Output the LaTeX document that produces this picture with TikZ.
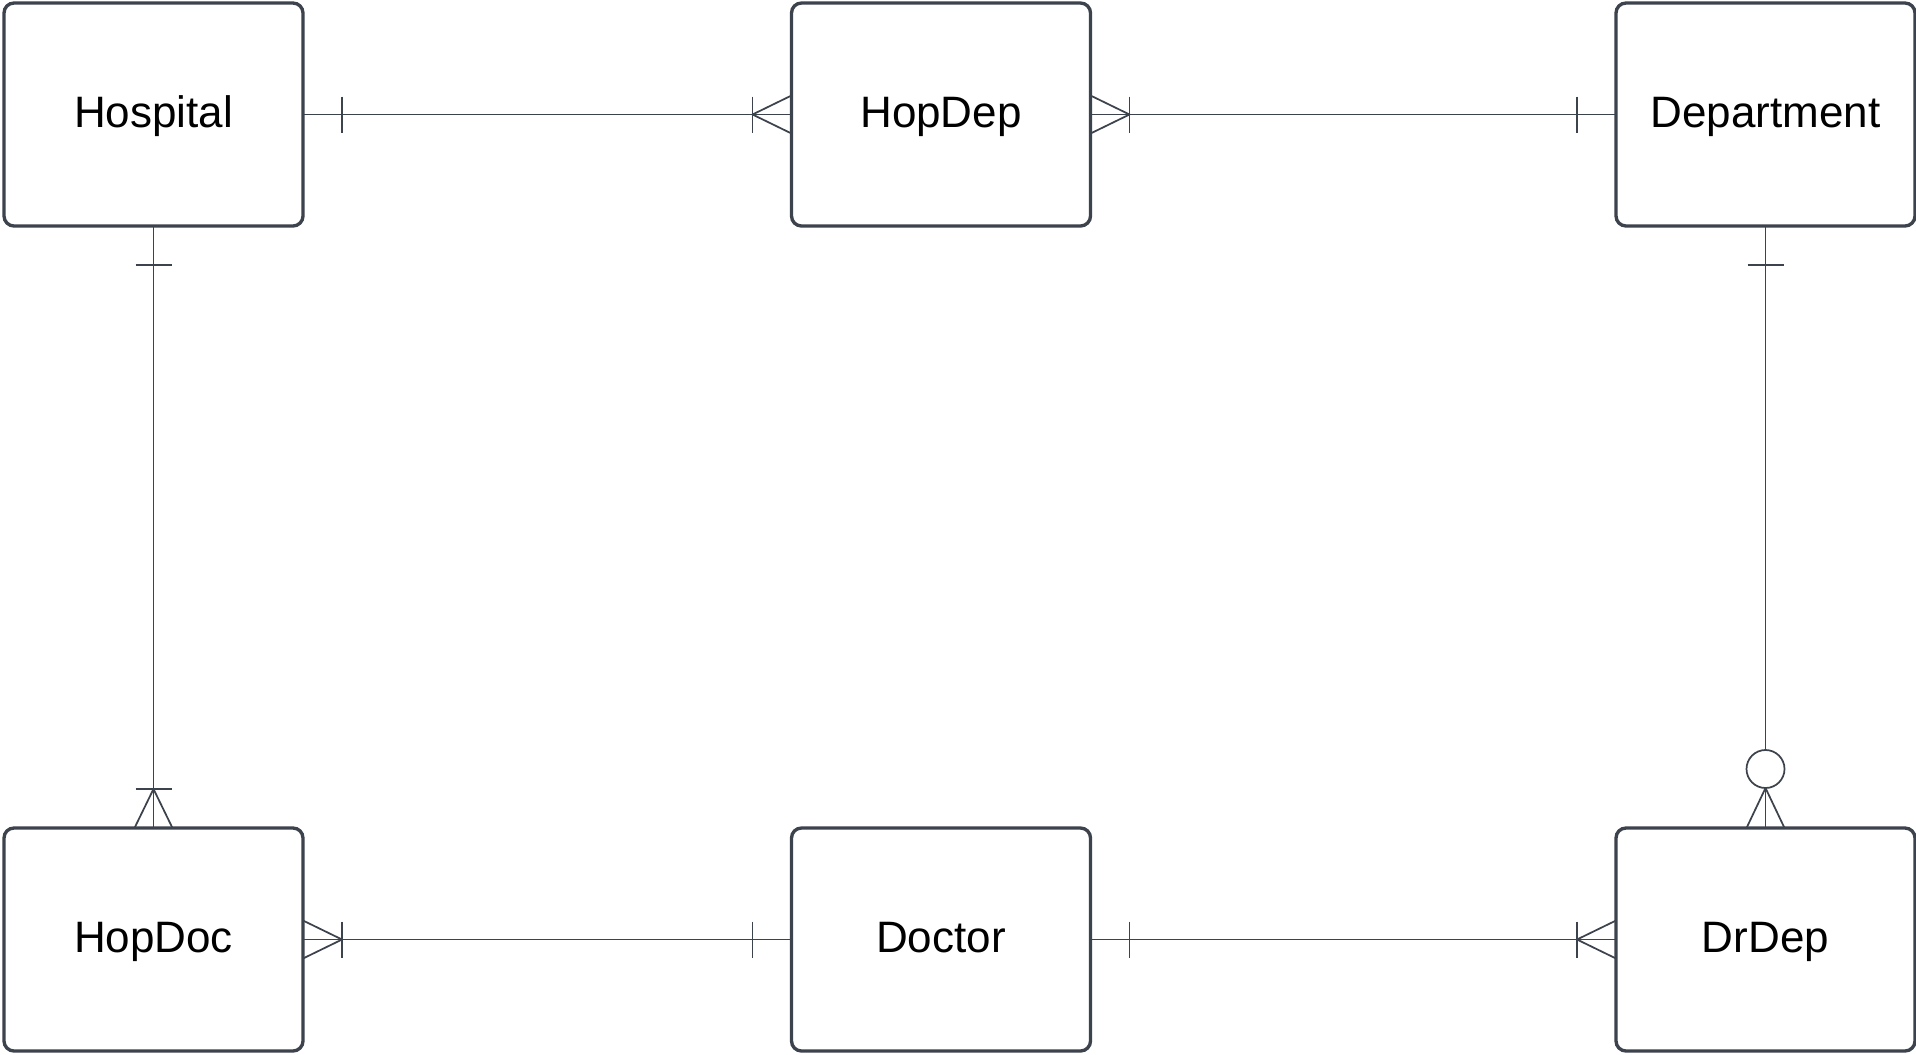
\documentclass[tikz,border=0pt]{standalone}
\usepackage{fontspec}
\setmainfont{Liberation Sans}
\usetikzlibrary{calc}
\definecolor{ln}{HTML}{3D434C}
\newcommand\ertickx[2]{\draw[conn] ($(#1)+(#2,-18)$) -- ($(#1)+(#2,18)$);}
\newcommand\erticky[2]{\draw[conn] ($(#1)+(-18,#2)$) -- ($(#1)+(18,#2)$);}
\newcommand\ercrowx[2]{%
  \draw[conn] ($(#1)+(0,-19)$) -- ($(#1)+(#2,0)$) -- ($(#1)+(0,19)$);
  \draw[conn] ($(#1)+(#2,-18)$) -- ($(#1)+(#2,18)$);}
\newcommand\ercrowy[2]{%
  \draw[conn] ($(#1)+(-19,0)$) -- ($(#1)+(0,#2)$) -- ($(#1)+(19,0)$);
  \draw[conn] ($(#1)+(-18,#2)$) -- ($(#1)+(18,#2)$);}
\begin{document}
\begin{tikzpicture}[x=0.75pt,y=-0.75pt,
  ent/.style={draw=ln, line width=2.5pt, rounded corners=7.5pt,
    minimum width=224.25pt, minimum height=167.25pt, inner sep=0pt, outer sep=0pt,
    fill=white, font=\fontsize{33}{39}\selectfont, text height=18.75pt, text depth=0pt},
  conn/.style={draw=ln, line width=1.3pt}]
\useasboundingbox (0,0) rectangle (1916,1054);
\fill[white] (0,0) rectangle (1916,1054);
% entities
\node[ent] (hosp)   at (153.5,114.5)  {Hospital};
\node[ent] (hopdep) at (941,114.5)    {HopDep};
\node[ent] (dept)   at (1765.5,114.5) {Department};
\node[ent] (hopdoc) at (153.5,939.5)  {HopDoc};
\node[ent] (doc)    at (941,939.5)    {Doctor};
\node[ent] (drdep)  at (1765.5,939.5) {DrDep};
% Hospital -- HopDep
\draw[conn] (hosp.east) -- (hopdep.west);
\ertickx{hosp.east}{39}
\ercrowx{hopdep.west}{-39}
% HopDep -- Department
\draw[conn] (hopdep.east) -- (dept.west);
\ercrowx{hopdep.east}{39}
\ertickx{dept.west}{-39}
% Hospital -- HopDoc
\draw[conn] (hosp.south) -- (hopdoc.north);
\erticky{hosp.south}{39}
\ercrowy{hopdoc.north}{-39}
% Department -- DrDep
\draw[conn] (dept.south) -- (drdep.north);
\erticky{dept.south}{39}
\draw[conn] ($(drdep.north)+(-19,0)$) -- ($(drdep.north)+(0,-40)$) -- ($(drdep.north)+(19,0)$);
\coordinate (zc) at ($(drdep.north)+(0,-59)$);
\draw[conn, fill=white] (zc) circle[radius=14.25pt];
% HopDoc -- Doctor
\draw[conn] (hopdoc.east) -- (doc.west);
\ercrowx{hopdoc.east}{39}
\ertickx{doc.west}{-39}
% Doctor -- DrDep
\draw[conn] (doc.east) -- (drdep.west);
\ertickx{doc.east}{39}
\ercrowx{drdep.west}{-39}
\end{tikzpicture}
\end{document}
